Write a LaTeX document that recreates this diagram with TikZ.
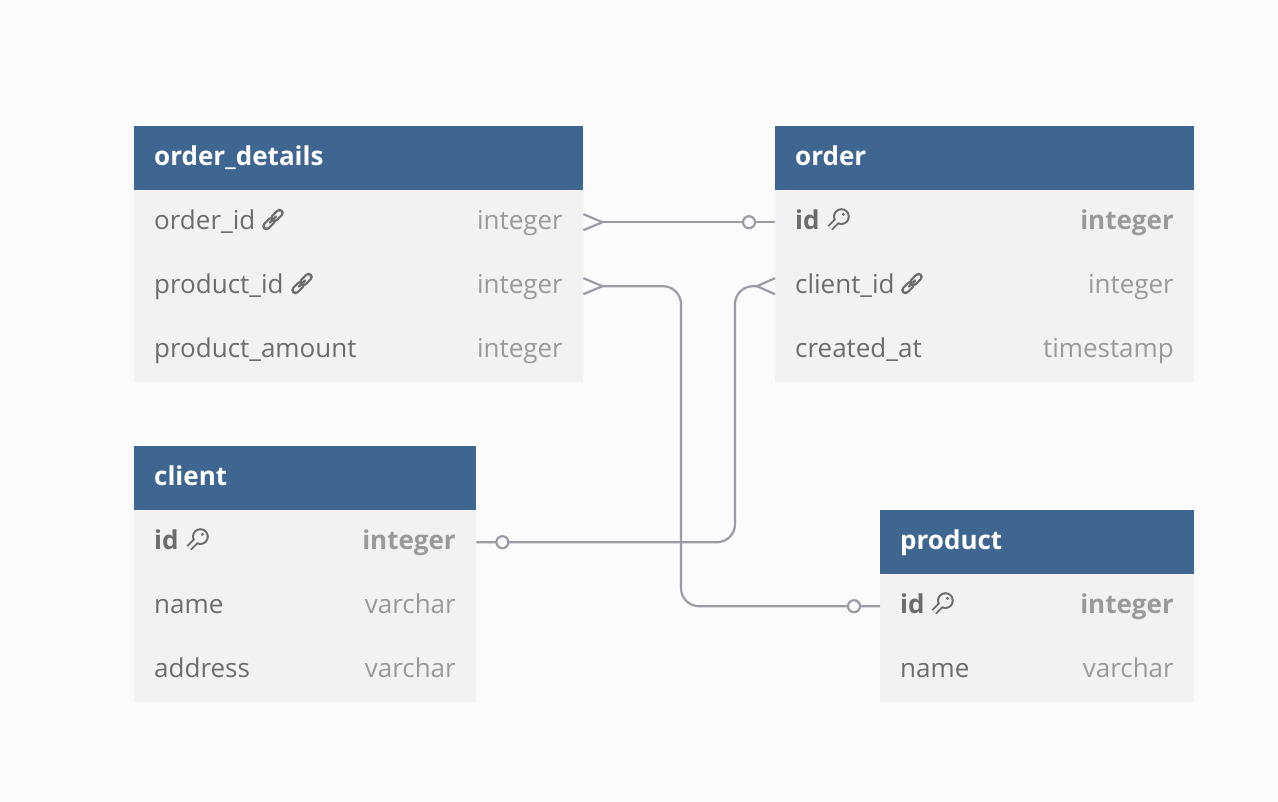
\documentclass[tikz,border=0pt]{standalone}
\usepackage{fontspec}
\setmainfont{Open Sans}
\definecolor{bgc}{HTML}{FBFBFB}
\definecolor{headc}{HTML}{3F6690}
\definecolor{rowc}{HTML}{F2F2F2}
\definecolor{namec}{HTML}{6C6C6C}
\definecolor{typec}{HTML}{9A9A9A}
\definecolor{relc}{HTML}{9B9BA6}
\tikzset{
  x=1pt,y=-1pt,
  headbox/.style={fill=headc,draw=none,inner sep=0pt,anchor=north west,minimum height=64pt},
  rowbox/.style={fill=rowc,draw=none,inner sep=0pt,anchor=north west,minimum height=64pt},
  headtxt/.style={text=white,font=\fontsize{26}{26}\selectfont\bfseries,inner sep=0pt,anchor=base west},
  nametxt/.style={text=namec,font=\fontsize{26}{26}\selectfont,inner sep=0pt,anchor=base west},
  typetxt/.style={text=typec,font=\fontsize{26}{26}\selectfont,inner sep=0pt,anchor=base east},
  pknametxt/.style={nametxt,font=\fontsize{26}{26}\selectfont\bfseries},
  pktypetxt/.style={typetxt,font=\fontsize{26}{26}\selectfont\bfseries},
  rel/.style={draw=relc,line width=2.2pt,rounded corners=18pt},
  crow/.style={draw=relc,line width=2.2pt},
  opt/.style={circle,draw=relc,fill=bgc,line width=2.2pt,inner sep=0pt,minimum size=12pt},
  keyicon/.pic={
    \fill[namec] (3.4,-3.4) circle[radius=8.4];
    \draw[namec,line width=7pt] (2,-2) -- (-8,8);
    \fill[rowc] (3.4,-3.4) circle[radius=6.3];
    \draw[rowc,line width=3pt] (1,-1) -- (-8,8);
    \fill[namec] (5.4,-5.6) circle[radius=1.6];
  },
  linkicon/.pic={
    \draw[namec,line width=8.4pt,line cap=round] (-6.6,6.6) -- (-1.4,1.4);
    \draw[rowc,line width=3.8pt,line cap=round] (-6.6,6.6) -- (-1.4,1.4);
    \draw[namec,line width=8.4pt,line cap=round] (1.4,-1.4) -- (6.6,-6.6);
    \draw[rowc,line width=3.8pt,line cap=round] (1.4,-1.4) -- (6.6,-6.6);
    \draw[namec,line width=2.2pt,line cap=round] (-3,3) -- (-.8,.8);
    \draw[namec,line width=2.2pt,line cap=round] (.8,-.8) -- (3,-3);
  }
}
\begin{document}
\begin{tikzpicture}
\useasboundingbox (0,0) rectangle (1278,802);
\fill[bgc] (0,0) rectangle (1278,802);

% order_details
\node[headbox,minimum width=449pt] (odh) at (134,126) {};
\node[rowbox,minimum width=449pt] (od1) at (134,190) {};
\node[rowbox,minimum width=449pt] (od2) at (134,254) {};
\node[rowbox,minimum width=449pt] (od3) at (134,318) {};
\node[headtxt] (odht) at (154,165.6) {order\_details};
\node[nametxt] (od1n) at (154,229.6) {order\_id};
\node[nametxt] (od2n) at (154,293.6) {product\_id};
\node[nametxt] (od3n) at (154,357.6) {product\_amount};
\node[typetxt] (od1t) at (563,229.6) {integer};
\node[typetxt] (od2t) at (563,293.6) {integer};
\node[typetxt] (od3t) at (563,357.6) {integer};
\pic at (273,219.5) {linkicon};
\pic at (302,283.5) {linkicon};

% order
\node[headbox,minimum width=419pt] (orh) at (775,126) {};
\node[rowbox,minimum width=419pt] (or1) at (775,190) {};
\node[rowbox,minimum width=419pt] (or2) at (775,254) {};
\node[rowbox,minimum width=419pt] (or3) at (775,318) {};
\node[headtxt] (orht) at (795,165.6) {order};
\node[pknametxt] (or1n) at (795,229.6) {id};
\node[nametxt] (or2n) at (795,293.6) {client\_id};
\node[nametxt] (or3n) at (795,357.6) {created\_at};
\node[pktypetxt] (or1t) at (1174,229.6) {integer};
\node[typetxt] (or2t) at (1174,293.6) {integer};
\node[typetxt] (or3t) at (1174,357.6) {timestamp};
\pic at (838,220) {keyicon};
\pic at (912,283.5) {linkicon};

% client
\node[headbox,minimum width=342pt] (clh) at (134,446) {};
\node[rowbox,minimum width=342pt] (cl1) at (134,510) {};
\node[rowbox,minimum width=342pt] (cl2) at (134,574) {};
\node[rowbox,minimum width=342pt] (cl3) at (134,638) {};
\node[headtxt] (clht) at (154,485.3) {client};
\node[pknametxt] (cl1n) at (154,549.3) {id};
\node[nametxt] (cl2n) at (154,613.3) {name};
\node[nametxt] (cl3n) at (154,677.3) {address};
\node[pktypetxt] (cl1t) at (456,549.3) {integer};
\node[typetxt] (cl2t) at (456,613.3) {varchar};
\node[typetxt] (cl3t) at (456,677.3) {varchar};
\pic at (197,540) {keyicon};

% product
\node[headbox,minimum width=314pt] (prh) at (880,510) {};
\node[rowbox,minimum width=314pt] (pr1) at (880,574) {};
\node[rowbox,minimum width=314pt] (pr2) at (880,638) {};
\node[headtxt] (prht) at (900,549.3) {product};
\node[pknametxt] (pr1n) at (900,613.3) {id};
\node[nametxt] (pr2n) at (900,677.3) {name};
\node[pktypetxt] (pr1t) at (1174,613.3) {integer};
\node[typetxt] (pr2t) at (1174,677.3) {varchar};
\pic at (942,604) {keyicon};

% connector anchors
\coordinate (a1) at ([xshift=19pt]od1.east);
\coordinate (a2) at ([xshift=19pt]od2.east);
\coordinate (a3) at ([xshift=-18pt]or2.west);
\coordinate (vx1) at (681,0);
\coordinate (vx2) at (735,0);
\coordinate (v1) at (vx1 |- a2);
\coordinate (v2) at (vx2 |- a3);

% connectors
\draw[rel] (a1) -- (or1.west);
\draw[rel] (a2) -- (v1) -- (v1 |- pr1.west) -- (pr1.west);
\draw[rel] (cl1.east) -- (v2 |- cl1.east) -- (v2) -- (a3);
\draw[crow] ([yshift=-8pt]od1.east) -- (a1) -- ([yshift=8pt]od1.east);
\draw[crow] ([yshift=-8pt]od2.east) -- (a2) -- ([yshift=8pt]od2.east);
\draw[crow] ([yshift=-8pt]or2.west) -- (a3) -- ([yshift=8pt]or2.west);
\node[opt] (o1) at ([xshift=-26pt]or1.west) {};
\node[opt] (o2) at ([xshift=26pt]cl1.east) {};
\node[opt] (o3) at ([xshift=-26pt]pr1.west) {};
\end{tikzpicture}
\end{document}
